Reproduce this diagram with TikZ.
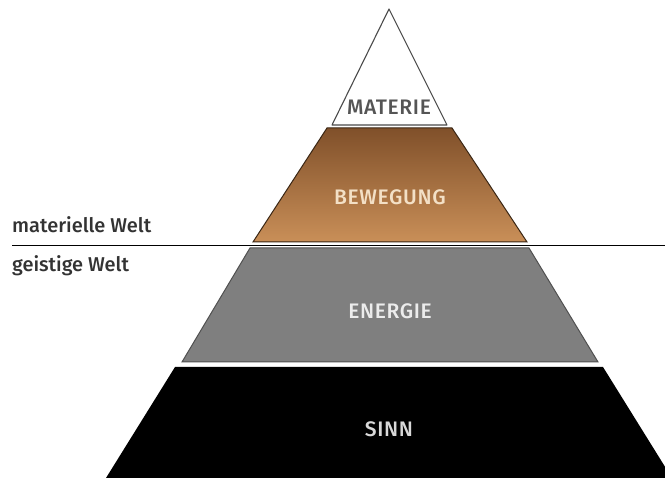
\documentclass[tikz,border=0pt]{standalone}
\usepackage{fontspec}
\setmainfont{Fira Sans}
\newfontfamily\layerfont[LetterSpace=3]{Fira Sans Medium}
\newfontfamily\sidefont{Fira Sans Medium}
\definecolor{edgegray}{HTML}{4A4A4A}
\definecolor{bronzetop}{HTML}{80502A}
\definecolor{bronzemid}{HTML}{B67A44}
\definecolor{bronzebot}{HTML}{C98F58}
\definecolor{bronzeedge}{HTML}{3A2614}
\definecolor{energygray}{HTML}{7F7F7F}
\definecolor{energyedge}{HTML}{505050}
\definecolor{sidegray}{HTML}{333333}
\definecolor{matterink}{HTML}{555555}
\definecolor{bronzeink}{HTML}{F3E0C6}
\definecolor{energyink}{HTML}{ECECEC}
\definecolor{senseink}{HTML}{D8D8D8}
\begin{document}
\begin{tikzpicture}[x=1pt,y=-1pt,
  layerlabel/.style={font=\layerfont\fontsize{21}{21}\selectfont, inner sep=0, anchor=base},
  sidelabel/.style={font=\sidefont\fontsize{20}{20}\selectfont, text=sidegray, inner sep=0, anchor=base west},
  divider/.style={line width=1.4pt, black}]
\useasboundingbox (0,0) rectangle (665,478);

% pyramid layers, bottom to top
\fill[black] (175,367) -- (603,367) -- (672,478) -- (106,478) -- cycle;
\filldraw[fill=energygray, draw=energyedge, line width=1pt]
  (250,248) -- (529,248) -- (598,362) -- (182,362) -- cycle;
\shade[top color=bronzetop, middle color=bronzemid, bottom color=bronzebot]
  (327,128) -- (452,128) -- (527,242) -- (253,242) -- cycle;
\draw[bronzeedge, line width=1pt]
  (327,128) -- (452,128) -- (527,242) -- (253,242) -- cycle;
\filldraw[fill=white, draw=edgegray, line width=1.1pt, line join=round]
  (389,9) -- (447,125) -- (332,125) -- cycle;

% boundary between the two worlds
\coordinate (divL) at (12,245.5);
\coordinate (divR) at (665,245.5);
\draw[divider] (divL) -- (divR);

% layer names
\node[layerlabel, text=matterink] (materie) at (389,115) {MATERIE};
\node[layerlabel, text=bronzeink] (bewegung) at (390,205) {BEWEGUNG};
\node[layerlabel, text=energyink] (energie) at (390,319) {ENERGIE};
\node[layerlabel, text=senseink] (sinn) at (389,437) {SINN};

% side labels
\node[sidelabel] (matwelt) at (12,233) {materielle Welt};
\node[sidelabel] (geiswelt) at (12,271.5) {geistige Welt};
\end{tikzpicture}
\end{document}
